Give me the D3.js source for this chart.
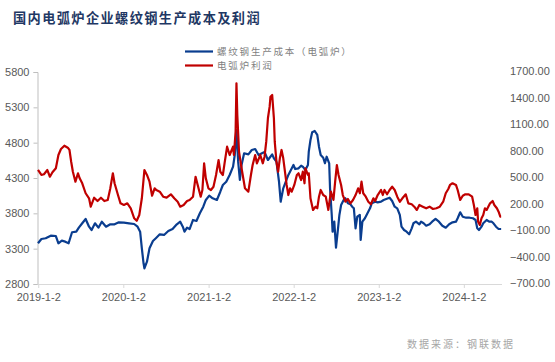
<!DOCTYPE html>
<html><head><meta charset="utf-8">
<script src="https://cdn.jsdelivr.net/npm/d3@7"></script>
<style>body{margin:0;background:#fff;} svg{display:block;}</style>
</head><body>
<svg id="c" width="555" height="362"></svg>
<script>
const chartTitle = "国内电弧炉企业螺纹钢生产成本及利润";
const seriesNames = ["螺纹钢生产成本（电弧炉）", "电弧炉利润"];
const sourceText = "数据来源：钢联数据";
const xTickDates = ["2019-01-02","2020-01-02","2021-01-02","2022-01-02","2023-01-02","2024-01-02"];
const xTickLabels = ["2019-1-2","2020-1-2","2021-1-2","2022-1-2","2023-1-2","2024-1-2"];
const leftTicks = [2800,3300,3800,4300,4800,5300,5800];
const rightTicks = [-700,-400,-100,200,500,800,1100,1400,1700];

// time as decimal years
const costT = [
2019.00,2019.04,2019.09,2019.15,2019.21,2019.24,2019.28,2019.32,2019.36,2019.40,
2019.45,2019.48,2019.52,2019.56,2019.60,2019.63,2019.67,2019.71,2019.75,2019.80,
2019.85,2019.90,2019.95,2020.01,2020.07,2020.13,2020.17,2020.20,2020.22,2020.24,
2020.25,2020.28,2020.31,2020.35,2020.39,2020.43,2020.48,2020.53,2020.58,2020.63,
2020.67,2020.70,2020.72,2020.75,2020.78,2020.82,2020.86,2020.90,2020.94,2020.97,
2021.01,2021.05,2021.10,2021.14,2021.17,2021.21,2021.25,2021.29,2021.31,2021.33,
2021.35,2021.37,2021.39,2021.42,2021.47,2021.51,2021.55,2021.59,2021.63,2021.66,
2021.70,2021.72,2021.75,2021.77,2021.80,2021.83,2021.85,2021.88,2021.91,2021.94,
2021.97,2022.00,2022.02,2022.06,2022.09,2022.11,2022.14,2022.17,2022.18,2022.20,
2022.22,2022.25,2022.28,2022.30,2022.32,2022.35,2022.37,2022.39,2022.42,2022.43,
2022.45,2022.46,2022.48,2022.50,2022.52,2022.54,2022.56,2022.59,2022.61,2022.64,
2022.67,2022.69,2022.71,2022.73,2022.75,2022.78,2022.79,2022.81,2022.84,2022.87,
2022.90,2022.92,2022.96,2022.99,2023.03,2023.06,2023.09,2023.13,2023.16,2023.19,
2023.22,2023.25,2023.27,2023.30,2023.33,2023.36,2023.39,2023.41,2023.44,2023.48,
2023.50,2023.53,2023.56,2023.60,2023.63,2023.67,2023.71,2023.75,2023.79,2023.83,
2023.87,2023.91,2023.93,2023.96,2023.99,2024.03,2024.07,2024.11,2024.14,2024.16,
2024.18,2024.21,2024.23,2024.27,2024.30,2024.33,2024.35,2024.38,2024.41,2024.44];
const costV = [
3376,3437,3447,3484,3479,3376,3413,3399,3376,3532,
3540,3597,3659,3720,3611,3564,3659,3597,3682,3611,
3645,3645,3673,3668,3659,3649,3611,3540,3305,3093,
3022,3116,3305,3409,3455,3503,3494,3550,3578,3645,
3682,3611,3540,3597,3578,3706,3692,3801,3894,3989,
4050,4013,3989,4106,4201,4248,4343,4460,4625,4979,
4531,4272,4484,4650,4635,4696,4710,4625,4650,4668,
4555,4587,4635,4579,4531,4248,3965,4154,4248,4343,
4413,4484,4427,4437,4474,4460,4413,4484,4672,4838,
4947,4965,4909,4743,4625,4587,4508,4601,4508,4154,
3777,3540,3682,3314,3540,3777,3918,3989,4013,3942,
3928,3894,3871,3588,3752,3777,3423,3682,3730,3801,
3871,3942,3965,3956,3965,3989,4003,4021,3975,3894,
3871,3777,3611,3564,3540,3503,3588,3659,3682,3645,
3682,3659,3625,3645,3682,3720,3682,3625,3597,3645,
3673,3682,3730,3815,3752,3738,3738,3730,3706,3588,
3564,3611,3659,3706,3682,3682,3659,3611,3578,3578];

const profitT = [
2019.00,2019.04,2019.07,2019.11,2019.14,2019.17,2019.21,2019.24,2019.27,2019.31,
2019.35,2019.37,2019.39,2019.41,2019.44,2019.47,2019.49,2019.52,2019.56,2019.60,
2019.62,2019.66,2019.70,2019.74,2019.78,2019.82,2019.85,2019.88,2019.90,2019.94,
2019.97,2020.01,2020.05,2020.09,2020.13,2020.16,2020.19,2020.22,2020.25,2020.28,
2020.31,2020.34,2020.37,2020.39,2020.43,2020.47,2020.51,2020.56,2020.60,2020.64,
2020.67,2020.71,2020.75,2020.78,2020.82,2020.85,2020.88,2020.91,2020.93,2020.95,
2020.97,2021.00,2021.03,2021.06,2021.09,2021.12,2021.14,2021.17,2021.19,2021.22,
2021.25,2021.29,2021.30,2021.32,2021.33,2021.34,2021.36,2021.39,2021.43,2021.47,
2021.50,2021.52,2021.55,2021.57,2021.61,2021.64,2021.66,2021.68,2021.70,2021.72,
2021.73,2021.75,2021.77,2021.78,2021.80,2021.82,2021.84,2021.86,2021.88,2021.90,
2021.92,2021.94,2021.96,2021.98,2022.01,2022.04,2022.06,2022.09,2022.11,2022.13,
2022.14,2022.17,2022.18,2022.20,2022.23,2022.26,2022.28,2022.30,2022.32,2022.35,
2022.38,2022.41,2022.44,2022.47,2022.49,2022.51,2022.53,2022.56,2022.58,2022.61,
2022.64,2022.67,2022.70,2022.73,2022.76,2022.78,2022.80,2022.82,2022.85,2022.88,
2022.91,2022.94,2022.96,2022.99,2023.03,2023.05,2023.07,2023.10,2023.13,2023.16,
2023.19,2023.22,2023.25,2023.28,2023.32,2023.35,2023.39,2023.42,2023.45,2023.48,
2023.52,2023.56,2023.60,2023.64,2023.68,2023.72,2023.76,2023.79,2023.82,2023.84,
2023.87,2023.91,2023.93,2023.96,2023.99,2024.02,2024.06,2024.10,2024.12,2024.14,
2024.16,2024.17,2024.19,2024.21,2024.23,2024.25,2024.27,2024.31,2024.34,2024.36,
2024.39,2024.41,2024.43,2024.44];
const profitV = [
580,523,531,579,503,553,599,749,817,854,
832,806,673,560,447,542,485,429,316,259,
164,266,228,266,228,240,372,542,429,296,
202,183,202,146,33,5,70,259,579,523,
447,288,372,353,334,277,266,304,259,220,
164,183,228,240,277,503,390,277,353,655,
485,372,353,390,523,692,560,523,655,843,
749,843,749,1013,1561,1202,786,599,372,334,
523,636,749,655,749,655,730,900,1168,1296,
1409,1428,1165,900,673,560,712,806,712,560,
410,296,372,334,410,523,542,466,560,429,
599,523,542,259,127,164,146,277,353,296,
277,127,334,240,447,636,523,410,296,220,
251,202,240,296,372,316,447,316,277,220,
191,259,228,296,353,296,353,304,353,390,
353,277,220,259,304,202,191,164,127,183,
164,146,164,138,146,164,220,316,364,410,
429,410,353,240,288,304,304,277,183,70,
146,-6,-43,33,70,146,127,202,228,183,
146,107,51,51];

const xStart = 2019.0, xEnd = 2024.45;
function yd(t){
  const y = Math.floor(t);
  const s = new Date(y,0,1), e = new Date(y+1,0,1);
  return new Date(+s + (t-y)*(e-s));
}
const pDate = d3.timeParse("%Y-%m-%d");

const svg = d3.select("#c");
const plotL = 37.5, plotR = 502, plotT = 72, plotB = 284;
const font = "'Liberation Sans', Arial, sans-serif";
const cjk = "'Noto Sans CJK SC', sans-serif";

const x = d3.scaleTime().domain([yd(xStart), yd(xEnd)]).range([plotL+0.5, plotR]);
const yL = d3.scaleLinear().domain([2800,5800]).range([plotB, plotT]);
const yR = d3.scaleLinear().domain([-700,1700]).range([plotB-1, plotT-1]);

// title
svg.append("text").attr("x",13).attr("y",23).text(chartTitle)
  .attr("font-family",cjk).attr("font-weight",700).attr("font-size",13.2)
  .attr("letter-spacing",1.4).attr("fill","#1f3864");

// legend
const leg = [{n:seriesNames[0],c:"#0a3d8f",y:51.5},{n:seriesNames[1],c:"#c00000",y:65.5}];
leg.forEach(l=>{
  svg.append("line").attr("x1",185).attr("x2",213).attr("y1",l.y).attr("y2",l.y)
    .attr("stroke",l.c).attr("stroke-width",2.2);
  svg.append("text").attr("x",217).attr("y",l.y+3.5).text(l.n)
    .attr("font-family",cjk).attr("font-size",9.5).attr("letter-spacing",1.8).attr("fill","#7f7f7f");
});

// left axis
const gL = svg.append("g").attr("transform",`translate(${plotL},0)`)
  .call(d3.axisLeft(yL).tickValues(leftTicks).tickSize(4).tickPadding(4).tickFormat(d3.format("d")));
gL.select(".domain").attr("stroke","#bfbfbf");
gL.selectAll(".tick line").attr("stroke","#bfbfbf");
gL.selectAll("text").attr("font-family",font).attr("font-size",11).attr("fill","#595959");

// right axis
const gR = svg.append("g").attr("transform",`translate(${plotR},0)`)
  .call(d3.axisRight(yR).tickValues(rightTicks).tickSize(0).tickPadding(8).tickFormat(d3.format(".2f")));
gR.select(".domain").remove();
gR.selectAll("text").attr("font-family",font).attr("font-size",11).attr("fill","#595959");

// bottom axis
const gB = svg.append("g").attr("transform",`translate(0,${plotB})`)
  .call(d3.axisBottom(x).tickValues(xTickDates.map(pDate)).tickSize(4).tickPadding(5)
    .tickFormat((d,i)=>xTickLabels[i]));
gB.select(".domain").attr("stroke","#d9d9d9").attr("d",`M${plotL},0.5H${plotR}`);
gB.selectAll(".tick line").attr("stroke","#d9d9d9");
gB.selectAll("text").attr("font-family",font).attr("font-size",11).attr("fill","#595959");

// lines
const costData = costT.map((t,i)=>({d:yd(t),v:costV[i]}));
const profitData = profitT.map((t,i)=>({d:yd(t),v:profitV[i]}));
svg.append("path").datum(costData)
  .attr("d",d3.line().x(d=>x(d.d)).y(d=>yL(d.v)))
  .attr("fill","none").attr("stroke","#0a3d8f").attr("stroke-width",2.2).attr("stroke-linejoin","round");
svg.append("path").datum(profitData)
  .attr("d",d3.line().x(d=>x(d.d)).y(d=>yR(d.v)))
  .attr("fill","none").attr("stroke","#c00000").attr("stroke-width",2.2).attr("stroke-linejoin","round");

// source
svg.append("text").attr("x",407).attr("y",348).text(sourceText)
  .attr("font-family",cjk).attr("font-size",10).attr("letter-spacing",2).attr("fill","#a6a6a6");
</script>
</body></html>
